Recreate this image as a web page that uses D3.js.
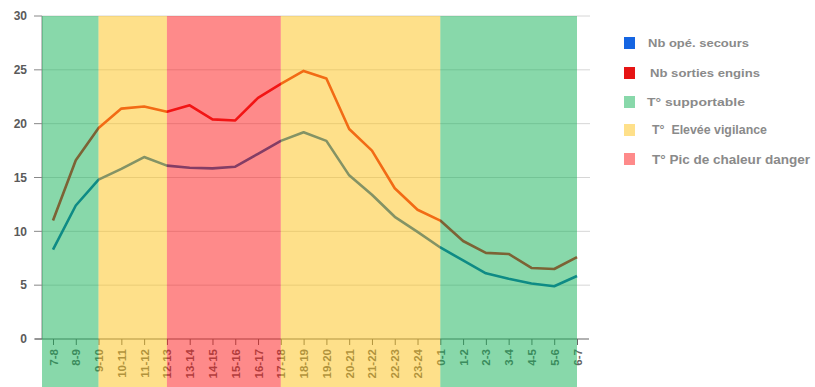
<!DOCTYPE html>
<html>
<head>
<meta charset="utf-8">
<script src="https://cdn.jsdelivr.net/npm/d3@7"></script>
<style>
  html, body { margin: 0; padding: 0; background: #fff; }
  svg { display: block; font-family: "Liberation Sans", Arial, sans-serif; }
</style>
</head>
<body>
<svg id="chart" width="815" height="387"></svg>
<script>
// Hourly slots (start-end hour)
const categories = ["7-8","8-9","9-10","10-11","11-12","12-13","13-14","14-15","15-16","16-17",
  "17-18","18-19","19-20","20-21","21-22","22-23","23-24","0-1","1-2","2-3","3-4","4-5","5-6","6-7"];

// Nb opé. secours
const secours = [8.3, 12.4, 14.8, 15.8, 16.9, 16.1, 15.9, 15.85, 16.0, 17.2,
  18.4, 19.2, 18.4, 15.2, 13.4, 11.35, 9.95, 8.5, 7.3, 6.1, 5.6, 5.15, 4.9, 5.85];

// Nb sorties engins
const engins = [11.0, 16.6, 19.6, 21.4, 21.6, 21.1, 21.7, 20.4, 20.3, 22.4,
  23.7, 24.9, 24.2, 19.5, 17.5, 14.0, 12.0, 11.0, 9.1, 8.0, 7.9, 6.6, 6.5, 7.6];

const yTicks = [0, 5, 10, 15, 20, 25, 30];

// Temperature zones: level index and the slot where each zone ends
const zoneNames = ["T° supportable", "T°  Elevée vigilance", "T° Pic de chaleur danger"];
const zoneColors = ["#11b155", "#fdc115", "#fd1515"];
const zoneEnds = ["9-10", "12-13", "17-18", "0-1", "6-7"];
const zoneLevels = [0, 1, 2, 1, 0];

const seriesNames = ["Nb opé. secours", "Nb sorties engins"];
const seriesColors = ["#1565e2", "#e61414"];
const seriesLineColors = ["#0a64b4", "#e61414"];

(function draw() {
  const svg = d3.select("#chart");
  const H = 387;
  const mLeft = 42, mRight = 577, mTop = 16, mBottom = 339;

  const x = d3.scalePoint().domain(categories).range([mLeft + 11, mRight]);
  const y = d3.scaleLinear().domain([0, 30]).range([mBottom, mTop]);

  // Gridlines
  svg.append("g").selectAll("line").data(yTicks.filter(d => d > 0)).join("line")
    .attr("x1", mLeft).attr("x2", 590)
    .attr("y1", d => y(d)).attr("y2", d => y(d))
    .attr("stroke", "#d6d6d6").attr("stroke-width", 1);

  // Y axis line and ticks
  svg.append("line").attr("x1", mLeft).attr("x2", mLeft).attr("y1", y(30)).attr("y2", y(0))
    .attr("stroke", "#888").attr("stroke-width", 1);
  svg.append("g").selectAll("line").data(yTicks).join("line")
    .attr("x1", 34).attr("x2", mLeft)
    .attr("y1", d => y(d)).attr("y2", d => y(d))
    .attr("stroke", "#888").attr("stroke-width", 1);

  // X axis
  const xAxis = d3.axisBottom(x).tickSize(6).tickPadding(4);
  const gx = svg.append("g").attr("transform", `translate(0,${mBottom})`).call(xAxis);
  gx.select(".domain").remove();
  gx.selectAll(".tick line").attr("stroke", "#666");
  gx.selectAll(".tick text")
    .attr("fill", "#646464").attr("font-size", 11.5).attr("font-weight", "bold")
    .attr("transform", "rotate(-90)")
    .attr("text-anchor", "end")
    .attr("dy", "0.35em")
    .attr("x", -10).attr("y", 0);
  svg.append("line").attr("x1", 35).attr("x2", 589).attr("y1", mBottom).attr("y2", mBottom)
    .attr("stroke", "#666").attr("stroke-width", 1.2);

  // Series lines
  const series = [secours, engins];
  const line = d3.line().x((d, i) => x(categories[i])).y(d => y(d));
  svg.append("g").selectAll("path").data(series).join("path")
    .attr("d", d => line(d))
    .attr("fill", "none")
    .attr("stroke", (d, i) => seriesLineColors[i])
    .attr("stroke-width", 2.6)
    .attr("stroke-linejoin", "round");

  // Temperature zones, drawn translucent over the plot
  const zones = zoneEnds.map((e, i) => ({
    x0: i === 0 ? mLeft : x(zoneEnds[i - 1]),
    x1: x(e),
    level: zoneLevels[i]
  }));
  svg.append("g").selectAll("rect").data(zones).join("rect")
    .attr("x", d => d.x0).attr("y", y(30))
    .attr("width", d => d.x1 - d.x0).attr("height", H - y(30))
    .attr("fill", d => zoneColors[d.level])
    .attr("fill-opacity", 0.5);

  // Y tick labels
  svg.append("g").selectAll("text").data(yTicks).join("text")
    .attr("x", 27).attr("y", d => y(d)).attr("dy", "0.35em")
    .attr("text-anchor", "end")
    .attr("font-size", 12).attr("font-weight", "bold").attr("fill", "#5a5a5a")
    .text(d => d);

  // Legend
  const legendItems = [
    { name: seriesNames[0], color: seriesColors[0], opacity: 1, tx: 648, y: 43, fs: 11.5, w: 101 },
    { name: seriesNames[1], color: seriesColors[1], opacity: 1, tx: 650, y: 73, fs: 11.5, w: 110 },
    { name: zoneNames[0], color: zoneColors[0], opacity: 0.5, tx: 647, y: 102, fs: 11.8, w: 98 },
    { name: zoneNames[1], color: zoneColors[1], opacity: 0.5, tx: 652, y: 130, fs: 12.5, w: 115 },
    { name: zoneNames[2], color: zoneColors[2], opacity: 0.5, tx: 652, y: 159, fs: 13.2, w: 158 }
  ];
  const lg = svg.append("g").selectAll("g").data(legendItems).join("g");
  lg.append("rect")
    .attr("x", 624).attr("y", d => d.y - 6).attr("width", 11).attr("height", 12)
    .attr("fill", d => d.color).attr("fill-opacity", d => d.opacity);
  lg.append("text")
    .attr("x", d => d.tx).attr("y", d => d.y).attr("dy", "0.35em")
    .attr("font-size", d => d.fs).attr("font-weight", "bold").attr("fill", "#8a8a8a")
    .attr("textLength", d => d.w).attr("lengthAdjust", "spacingAndGlyphs")
    .style("white-space", "pre")
    .text(d => d.name);
})();
</script>
</body>
</html>
